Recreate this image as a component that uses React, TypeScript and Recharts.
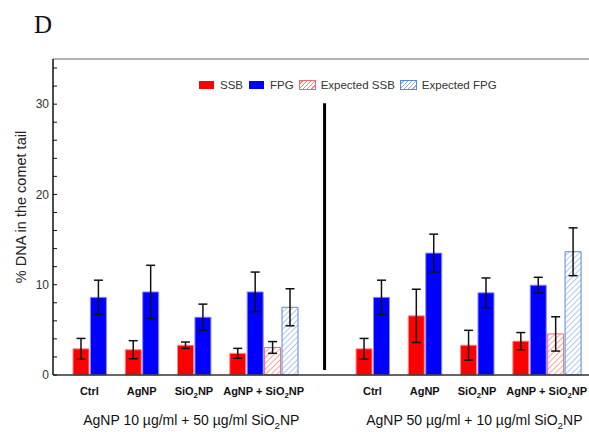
import React from 'react';
import {
  BarChart,
  Bar,
  Cell,
  ErrorBar,
  XAxis,
  YAxis,
  ReferenceLine,
} from 'recharts';

// Treatments shown in each of the two panels
const treatments = ['Ctrl', 'AgNP', 'SiO2NP', 'AgNP + SiO2NP'];
const groupLabels = ['AgNP 10 µg/ml + 50 µg/ml SiO2NP', 'AgNP 50 µg/ml + 10 µg/ml SiO2NP'];

// Panel 1: AgNP 10 + SiO2NP 50
const ssbLow = [2.9, 2.8, 3.3, 2.4];
const ssbLowErr = [1.15, 1.0, 0.35, 0.55];
const fpgLow = [8.6, 9.2, 6.4, 9.2];
const fpgLowErr = [1.9, 2.95, 1.45, 2.2];
const expectedLow = { ssb: 3.05, ssbErr: 0.65, fpg: 7.5, fpgErr: 2.05 };

// Panel 2: AgNP 50 + SiO2NP 10
const ssbHigh = [2.9, 6.55, 3.3, 3.75];
const ssbHighErr = [1.15, 2.95, 1.65, 0.95];
const fpgHigh = [8.6, 13.5, 9.1, 9.95];
const fpgHighErr = [1.9, 2.1, 1.65, 0.87];
const expectedHigh = { ssb: 4.55, ssbErr: 1.9, fpg: 13.65, fpgErr: 2.65 };

const yTicks = [0, 2, 4, 6, 8, 10, 12, 14, 16, 18, 20, 22, 24, 26, 28, 30, 32, 34];

const legendItems = [
  { label: 'SSB', kind: 'ssb' },
  { label: 'FPG', kind: 'fpg' },
  { label: 'Expected SSB', kind: 'expSsb' },
  { label: 'Expected FPG', kind: 'expFpg' },
];

const FONT = 'Arial, "Liberation Sans", sans-serif';

// slot layout: each bar sits in one slot, pairs are 3 slots apart
const GROUP_START = [0, 16.25];

type Row = { x: number; value: number; err: number; kind: string };

const buildRows = (): Row[] => {
  const sets = [
    { ssb: ssbLow, ssbErr: ssbLowErr, fpg: fpgLow, fpgErr: fpgLowErr, exp: expectedLow },
    { ssb: ssbHigh, ssbErr: ssbHighErr, fpg: fpgHigh, fpgErr: fpgHighErr, exp: expectedHigh },
  ];
  const rows: Row[] = [];
  sets.forEach((s, g) => {
    const start = GROUP_START[g];
    treatments.forEach((_, i) => {
      rows.push({ x: start + i * 3, value: s.ssb[i], err: s.ssbErr[i], kind: 'ssb' });
      rows.push({ x: start + i * 3 + 1, value: s.fpg[i], err: s.fpgErr[i], kind: 'fpg' });
    });
    rows.push({ x: start + 11, value: s.exp.ssb, err: s.exp.ssbErr, kind: 'expSsb' });
    rows.push({ x: start + 12, value: s.exp.fpg, err: s.exp.fpgErr, kind: 'expFpg' });
  });
  return rows;
};

const data = buildRows();

// tick positions: pair centres for treatments, centre of the last 4 bars for the combo
const tickLabels = new Map<number, { text: string; row: number }>();
GROUP_START.forEach((start, g) => {
  [0.5, 3.5, 6.5, 10.5].forEach((off, i) => {
    tickLabels.set(start + off, { text: treatments[i], row: 0 });
  });
  tickLabels.set(start + 6.35, { text: groupLabels[g], row: 1 });
});
const xTicks = Array.from(tickLabels.keys());

const fills: Record<string, string> = {
  ssb: '#ff0000',
  fpg: '#0000ff',
  expSsb: 'url(#hatchRed)',
  expFpg: 'url(#hatchBlue)',
};
const strokes: Record<string, string> = {
  ssb: '#ff8a8a',
  fpg: '#8a8aff',
  expSsb: '#f06a6a',
  expFpg: '#5a86e0',
};

// render "SiO2" with a subscript 2
const withSub = (text: string, size: number) => {
  const parts = text.split('SiO2');
  const out: React.ReactNode[] = [];
  parts.forEach((p, i) => {
    if (i > 0) {
      out.push(<tspan key={`s${i}`}>SiO</tspan>);
      out.push(
        <tspan key={`d${i}`} dy={size * 0.3} fontSize={size * 0.7}>
          2
        </tspan>
      );
      out.push(
        <tspan key={`u${i}`} dy={-size * 0.3}>
          {p}
        </tspan>
      );
    } else if (p) {
      out.push(<tspan key={`p${i}`}>{p}</tspan>);
    }
  });
  return out;
};

const XTick = (props: any) => {
  const { x, y, payload } = props;
  const info = tickLabels.get(payload.value);
  if (!info) return null;
  if (info.row === 0) {
    return (
      <text x={x} y={y + 12} textAnchor="middle" fontFamily={FONT} fontSize={11} fontWeight="bold" fill="#111">
        {withSub(info.text, 11)}
      </text>
    );
  }
  return (
    <text x={x} y={y + 42} textAnchor="middle" fontFamily={FONT} fontSize={14} fill="#111">
      {withSub(info.text, 14)}
    </text>
  );
};

const Swatch = ({ kind }: { kind: string }) => {
  const hatch = kind === 'expSsb' || kind === 'expFpg';
  const color = kind === 'ssb' || kind === 'expSsb' ? (hatch ? '#f06a6a' : '#ff0000') : hatch ? '#5a86e0' : '#0000ff';
  const line = kind === 'expSsb' ? '#ff8080' : '#8fb0f0';
  const style: React.CSSProperties = {
    width: 17,
    height: 10,
    display: 'inline-block',
    marginRight: 5,
    boxSizing: 'border-box',
    border: `1px solid ${hatch ? color : '#ffffff'}`,
    background: hatch
      ? `repeating-linear-gradient(-45deg, #fff 0px, #fff 2px, ${line} 2px, ${line} 3px)`
      : color,
  };
  return <span style={style} />;
};

const App: React.FC = () => {
  return (
    <div style={{ position: 'absolute', left: 0, top: 0, width: 589, height: 432, background: '#fff' }}>
      <div
        style={{
          position: 'absolute',
          left: 34,
          top: 11,
          fontFamily: '"Liberation Serif", "Times New Roman", serif',
          fontSize: 25,
          color: '#111',
        }}
      >
        D
      </div>
      <div
        style={{
          position: 'absolute',
          left: 198,
          top: 79,
          display: 'flex',
          alignItems: 'center',
          fontFamily: FONT,
          fontSize: 11.5,
          color: '#333',
          zIndex: 2,
        }}
      >
        {legendItems.map((item) => (
          <span key={item.label} style={{ display: 'flex', alignItems: 'center', marginRight: 5 }}>
            <Swatch kind={item.kind} />
            {item.label}
          </span>
        ))}
      </div>
      <BarChart width={589} height={432} data={data} margin={{ top: 59, right: 0, bottom: 0, left: 0 }}>
        <defs>
          <pattern id="hatchRed" patternUnits="userSpaceOnUse" width={4} height={4} patternTransform="rotate(45)">
            <rect width={4} height={4} fill="#fff" />
            <line x1={0} y1={0} x2={0} y2={4} stroke="#ff7a7a" strokeWidth={1.4} />
          </pattern>
          <pattern id="hatchBlue" patternUnits="userSpaceOnUse" width={4} height={4} patternTransform="rotate(45)">
            <rect width={4} height={4} fill="#fff" />
            <line x1={0} y1={0} x2={0} y2={4} stroke="#8aaef0" strokeWidth={1.4} />
          </pattern>
        </defs>
        <XAxis
          dataKey="x"
          type="number"
          domain={[-1.59, 29.18]}
          allowDataOverflow
          ticks={xTicks}
          interval={0}
          tick={<XTick />}
          tickLine={false}
          axisLine={{ stroke: '#333', strokeWidth: 1.5 }}
          height={57}
        />
        <YAxis
          type="number"
          domain={[0, 35]}
          ticks={yTicks}
          interval={0}
          tickFormatter={(v: number) => (v % 10 === 0 ? String(v) : '')}
          tickSize={-4}
          tickMargin={8}
          tickLine={{ stroke: '#111' }}
          axisLine={{ stroke: '#111', strokeWidth: 1.5 }}
          tick={{ fill: '#333', fontFamily: FONT, fontSize: 12 }}
          width={53}
          label={(p: any) => {
            const vb = p.viewBox || { x: 0, y: 59, width: 53, height: 316 };
            const cx = 22;
            const cy = vb.y + vb.height / 2 - 10;
            return (
              <text
                x={cx}
                y={cy}
                transform={`rotate(-90, ${cx}, ${cy})`}
                textAnchor="middle"
                dominantBaseline="middle"
                fontFamily={FONT}
                fontSize={14.5}
                fill="#222"
              >
                % DNA in the comet tail
              </text>
            );
          }}
        />
        <ReferenceLine y={35} stroke="#999" strokeWidth={1.5} />
        <ReferenceLine
          segment={[
            { x: 14, y: 30.1 },
            { x: 14, y: 0.55 },
          ]}
          stroke="#000"
          strokeWidth={3}
        />
        <Bar dataKey="value" barSize={16} isAnimationActive={false}>
          {data.map((d, i) => (
            <Cell key={i} fill={fills[d.kind]} stroke={strokes[d.kind]} strokeWidth={1} />
          ))}
          <ErrorBar dataKey="err" width={4.5} stroke="#111" strokeWidth={1.5} />
        </Bar>
      </BarChart>
    </div>
  );
};

export default App;
